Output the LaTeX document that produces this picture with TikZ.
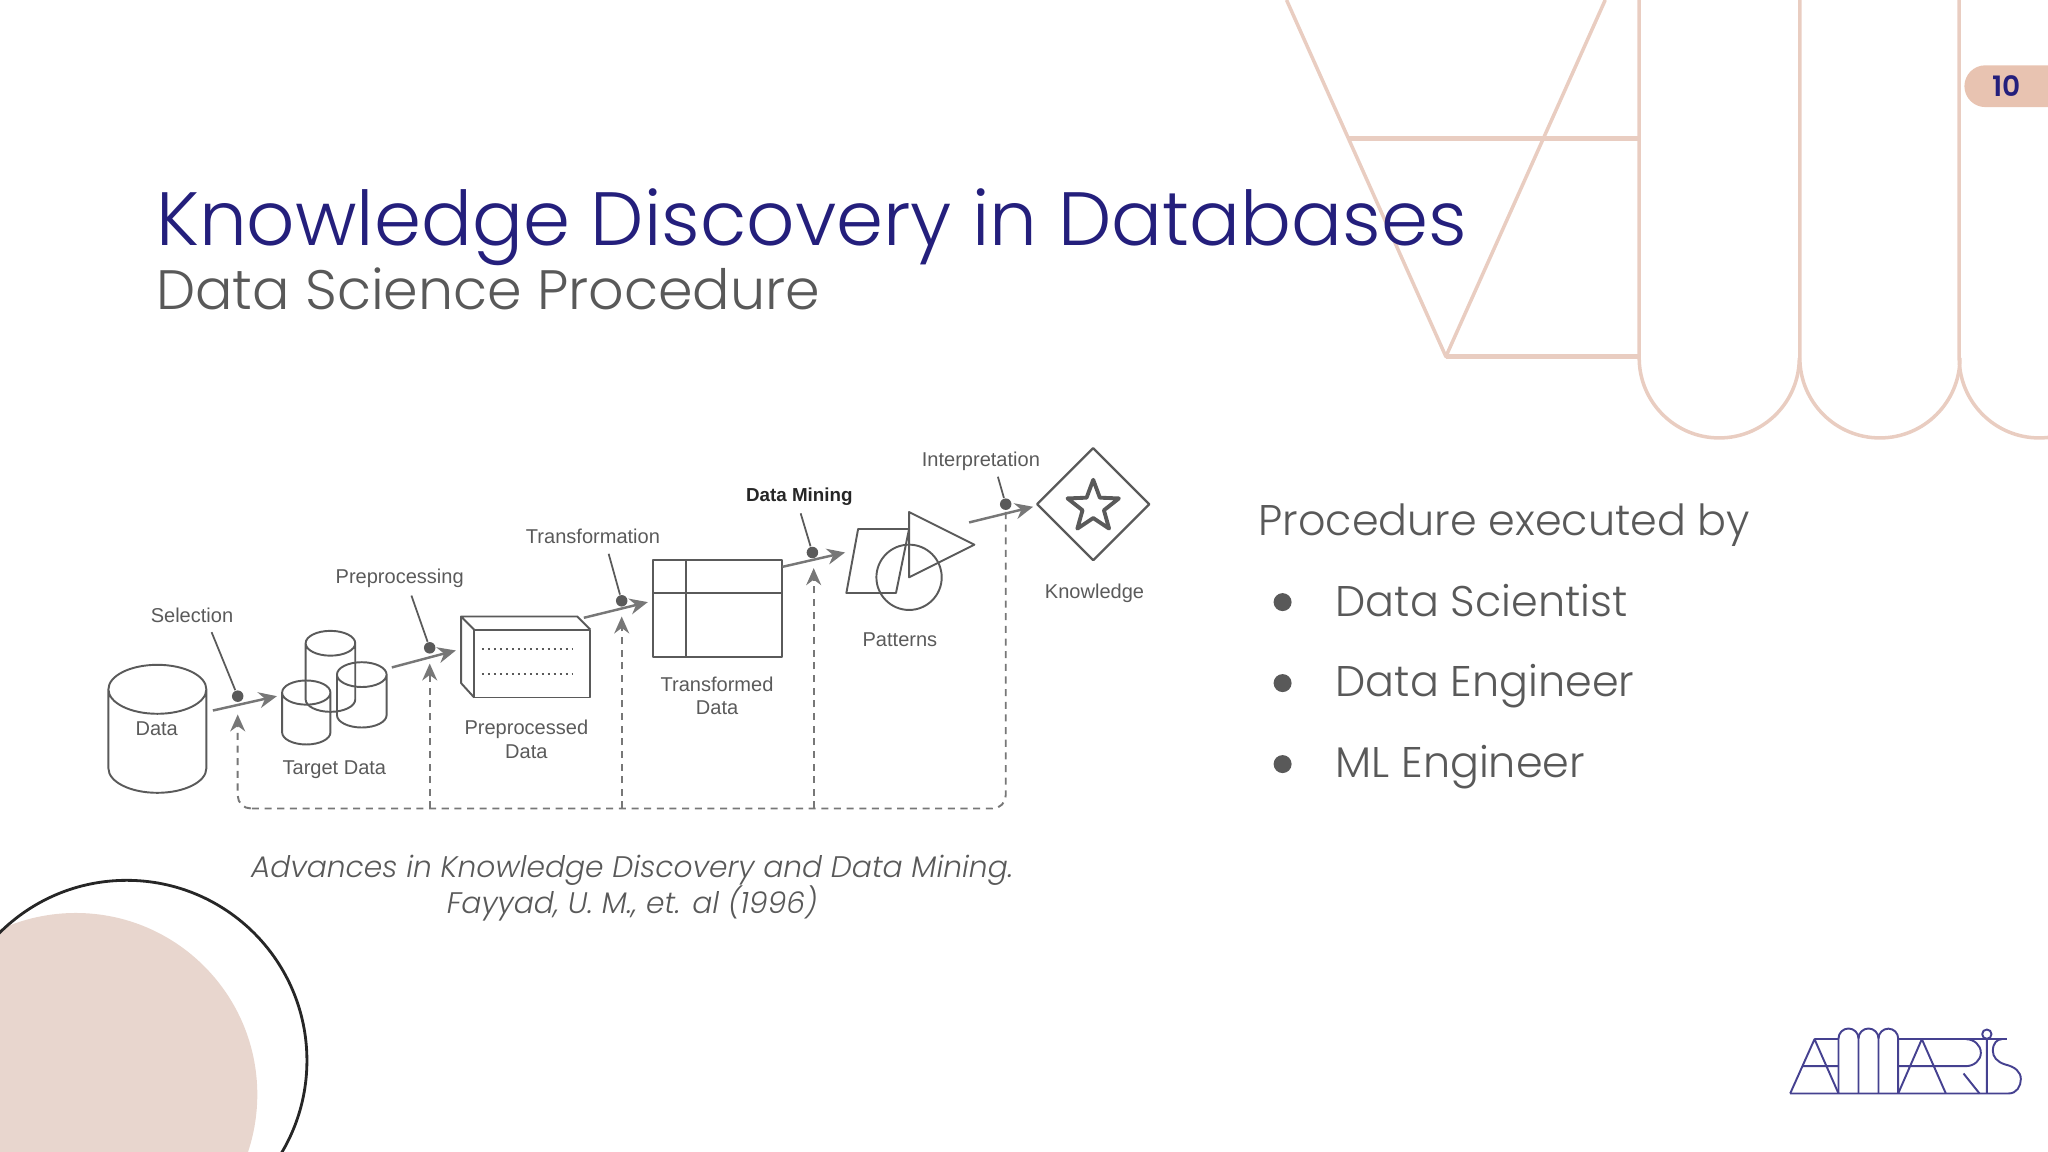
\documentclass[tikz,border=0pt]{standalone}
\usepackage{fontspec}
\setmainfont{Poppins}[UprightFont=* Light,ItalicFont=* Light Italic,BoldFont=* SemiBold]
\newfontfamily\labelfont{Liberation Sans}
\usetikzlibrary{arrows.meta,shapes.geometric}
\definecolor{navy}{HTML}{241F7C}
\definecolor{greytext}{HTML}{595959}
\definecolor{greyline}{HTML}{5A5A5A}
\definecolor{greyflow}{HTML}{777777}
\definecolor{peach}{HTML}{E9CDC1}
\definecolor{badge}{HTML}{E8C3B1}
\definecolor{blush}{HTML}{E8D6CE}
\tikzset{
  boxline/.style={draw=greyline,line width=.55pt},
  steplabel/.style={font=\labelfont\fontsize{5.7pt}{6.6pt}\selectfont,text=greyline,align=center,inner sep=0pt},
  flow/.style={draw=greyflow,line width=.7pt,-{Stealth[length=1.8mm,width=1.6mm]}},
  callout/.style={draw=greyline,line width=.5pt},
  feedback/.style={draw=greyflow,line width=.55pt,dashed,dash pattern=on 2pt off 1.6pt,-{Stealth[length=1.7mm,width=1.5mm]}},
  dotnode/.style={circle,fill=greyline,inner sep=0pt,minimum size=.115cm},
  deco/.style={draw=peach,line width=1pt},
  bodytext/.style={font=\fontsize{12.2pt}{15pt}\selectfont,text=greytext,anchor=base west,inner sep=0pt},
  bulletdot/.style={circle,fill=greytext,inner sep=0pt,minimum size=.18cm},
  logoline/.style={draw=navy!85,line width=.55pt,line join=round}
}
% cylinder: centre x, top of cap, half width, height
\newcommand{\drawcyl}[4]{
  \draw[boxline] (#1-#3,#2+#3*.5) arc[start angle=180,end angle=0,x radius=#3,y radius=#3*.5]
    arc[start angle=0,end angle=-180,x radius=#3,y radius=#3*.5]
    -- (#1-#3,#2+#4-#3*.5) arc[start angle=180,end angle=0,x radius=#3,y radius=#3*.5]
    -- (#1+#3,#2+#3*.5);
}
\begin{document}
\begin{tikzpicture}[x=.013061cm,y=-.013061cm,line join=round]
  \useasboundingbox (0,0) rectangle (1568,882);
  %% corner circles
  \begin{scope}
    \clip (0,0) rectangle (1568,882);
    \fill[blush] (58,838) circle[radius=139];
    \draw[black!85,line width=.8pt] (97,812) circle[radius=138];
  \end{scope}
  %% top right lines
  \begin{scope}
    \clip (0,0) rectangle (1568,882);
    \draw[deco] (985,0) -- (1107,273) -- (1229,0);
    \draw[deco,line width=1.3pt] (1033,106) -- (1255,106);
    \draw[deco,line width=1.3pt] (1107,273) -- (1255,273);
    \foreach \xa in {1255,1378,1500}
      \draw[deco] (\xa,0) -- (\xa,274) arc[start angle=180,end angle=0,radius=61.3];
  \end{scope}
  \path[fill=badge] (1568,50) -- (1520,50) arc[start angle=-90,end angle=-180,radius=16] arc[start angle=-180,end angle=-270,radius=16] -- (1568,82) -- cycle;
  \node[text=navy,inner sep=0pt,font=\bfseries\fontsize{8pt}{10pt}\selectfont] (pagenum) at (1536,66) {10};
  %% titles
  \node[text=navy,anchor=base west,inner sep=0pt,font=\fontsize{21.5pt}{26pt}\selectfont] (title) at (119,188) {Knowledge Discovery in Databases};
  \node[text=greytext,anchor=base west,inner sep=0pt,font=\fontsize{15.8pt}{18pt}\selectfont] (subtitle) at (119,237) {Data Science Procedure};
  %% icons
  \drawcyl{120.5}{509}{37.5}{98}
  \drawcyl{253}{483}{19}{62}
  \drawcyl{234.5}{521}{18.5}{49}
  \drawcyl{277}{507}{19}{50}
  \draw[boxline] (363,482) rectangle (452,534);
  \draw[boxline] (363,482) -- (353,472) -- (442,472) -- (452,482);
  \draw[boxline] (353,472) -- (353,523) -- (363,534);
  \draw[greyline,line width=.55pt,dotted,dash pattern=on .6pt off 1.1pt] (369,497) -- (438,497);
  \draw[greyline,line width=.55pt,dotted,dash pattern=on .6pt off 1.1pt] (369,516) -- (438,516);
  \draw[boxline] (500,429) rectangle (599,503);
  \draw[boxline] (525,429) -- (525,503);
  \draw[boxline] (500,454) -- (599,454);
  \draw[boxline] (657,405) -- (696,405) -- (686,454) -- (648,454) -- cycle;
  \draw[boxline] (696,392) -- (746,417) -- (696,442) -- cycle;
  \draw[boxline] (696,442) circle[radius=25];
  \node[diamond,draw=greyline,line width=.65pt,inner sep=0pt,minimum width=1.13cm,minimum height=1.13cm] (knowledge) at (837,386) {};
  \node[star,star points=5,star point ratio=2.4,draw=greyline,line width=1.1pt,inner sep=0pt,minimum size=.54cm] (starmark) at (837,388) {};
  %% labels
  \node[steplabel] (dataL) at (120,558) {Data};
  \node[steplabel] (targetL) at (256,589) {Target Data};
  \node[steplabel] (prepL) at (403,566) {Preprocessed\\Data};
  \node[steplabel] (transL) at (549,533) {Transformed\\Data};
  \node[steplabel] (patL) at (689,490) {Patterns};
  \node[steplabel] (knowL) at (838,454) {Knowledge};
  \node[steplabel] (selL) at (147,471) {Selection};
  \node[steplabel] (ppL) at (306,443) {Preprocessing};
  \node[steplabel] (tfL) at (454,411) {Transformation};
  \node[steplabel,text=black!85,font=\labelfont\bfseries\fontsize{5.35pt}{6.6pt}\selectfont] (dmL) at (612,380) {Data Mining};
  \node[steplabel] (intL) at (751,353) {Interpretation};
  %% dots on the arrows
  \node[dotnode] (selD) at (182,533) {};
  \node[dotnode] (ppD) at (329,496) {};
  \node[dotnode] (tfD) at (476,460) {};
  \node[dotnode] (dmD) at (622,423) {};
  \node[dotnode] (intD) at (770,386) {};
  %% arrow ends
  \coordinate (a1) at (163,544); \coordinate (b1) at (212,533);
  \coordinate (a2) at (300,511); \coordinate (b2) at (349,498);
  \coordinate (a3) at (447,473); \coordinate (b3) at (496,461);
  \coordinate (a4) at (599,434); \coordinate (b4) at (647,423);
  \coordinate (a5) at (742,400); \coordinate (b5) at (791,388);
  \foreach \i in {1,...,5}
    \draw[flow] (a\i) -- (b\i);
  \draw[callout] (162,484) -- (selD);
  \draw[callout] (315,456) -- (ppD);
  \draw[callout] (466,424) -- (tfD);
  \draw[callout] (613,393) -- (dmD);
  \draw[callout] (764,365) -- (intD);
  %% feedback lines
  \coordinate (f1) at (182,547); \coordinate (f2) at (329,508);
  \coordinate (f3) at (476,472); \coordinate (f4) at (623,435);
  \draw[feedback,-] (770,392) -- (770,609) arc[start angle=0,end angle=90,radius=10] -- (192,619);
  \draw[feedback] (192,619) arc[start angle=90,end angle=180,radius=10] -- (f1);
  \draw[feedback] (329,619) -- (f2);
  \draw[feedback] (476,619) -- (f3);
  \draw[feedback] (623,619) -- (f4);
  %% caption
  \node[text=greytext,inner sep=0pt,align=center,font=\itshape\fontsize{8.46pt}{10.4pt}\selectfont] (caption) at (484,680) {Advances in Knowledge Discovery and Data Mining.\\Fayyad, U. M., et. al (1996)};
  %% right column
  \node[bodytext] (proc) at (963,410) {Procedure executed by};
  \node[bodytext] (it1) at (1022,472) {Data Scientist};
  \node[bodytext] (it2) at (1022,533) {Data Engineer};
  \node[bodytext] (it3) at (1022,595) {ML Engineer};
  \node[bulletdot] (bu1) at (982,461) {};
  \node[bulletdot] (bu2) at (982,523) {};
  \node[bulletdot] (bu3) at (982,585) {};
  %% logo
  \begin{scope}[shift={(1355.3,773.4)},scale=.2552]
    \draw[logoline] (133,87) -- (205,87) (384,87) -- (710,87);
    \draw[logoline] (60,250) -- (715,250) .. controls (740,250) and (752,228) .. (752,207)
      .. controls (752,185) and (735,170) .. (705,163) .. controls (680,155) and (668,140) .. (668,122)
      .. controls (668,100) and (680,87) .. (695,87);
    \draw[logoline] (60,250) -- (133,87) -- (205,250) (95,168) -- (205,168);
    \draw[logoline] (205,250) -- (205,85) arc[start angle=180,end angle=360,radius=30] -- (265,250);
    \draw[logoline] (265,85) arc[start angle=180,end angle=360,radius=30] -- (325,250);
    \draw[logoline] (325,85) arc[start angle=180,end angle=360,radius=29.5] -- (384,250);
    \draw[logoline] (384,250) -- (455,87) -- (527,250) (384,168) -- (527,168);
    \draw[logoline] (587,87) .. controls (612,87) and (632,105) .. (632,128) .. controls (632,150) and (612,168) .. (587,168) -- (527,168);
    \draw[logoline] (580,190) -- (628,250);
    \draw[logoline] (650,87) -- (650,250) (650,72) circle[radius=14];
  \end{scope}
\end{tikzpicture}
\end{document}
